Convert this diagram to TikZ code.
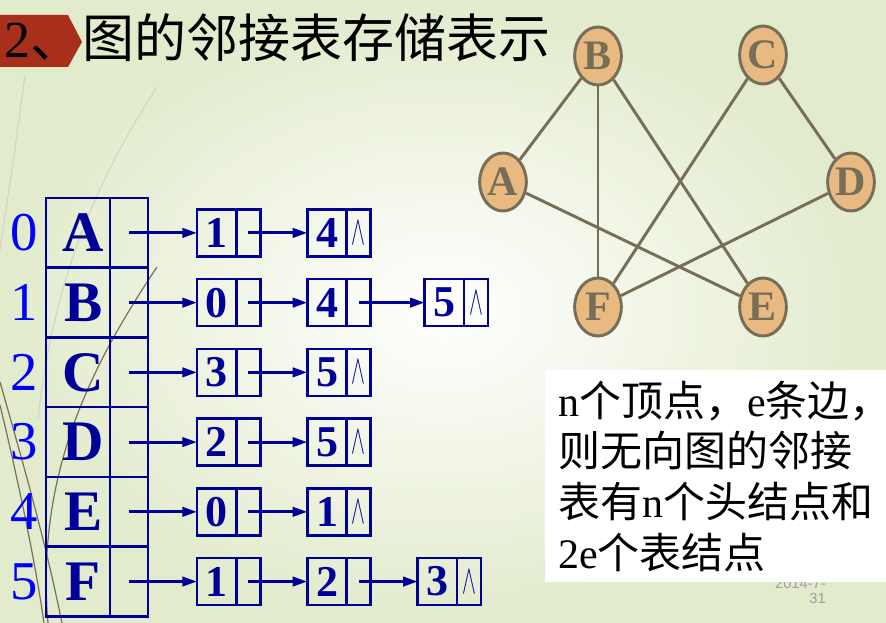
\documentclass[tikz,border=0pt]{standalone}
\usepackage{fontspec}
\usepackage{graphicx}
\setmainfont{Liberation Serif}
\setsansfont{Liberation Sans}
\newfontfamily\cjk{Noto Sans CJK SC}
\usepackage{tikz}
\usetikzlibrary{arrows.meta,positioning,shapes.geometric}
\definecolor{navy}{HTML}{000099}
\definecolor{idxblue}{HTML}{0000FF}
\definecolor{banner}{HTML}{A8301A}
\definecolor{vfill}{HTML}{E8BA82}
\definecolor{vline}{HTML}{766E56}
\definecolor{slidebg}{HTML}{E2EBCC}
\definecolor{wispdark}{HTML}{7D7058}
\definecolor{wisplight}{HTML}{D4D6C4}
\newcommand{\nil}{\scalebox{0.75}[1.5]{\fontsize{22}{22}\selectfont$\wedge$}}
\tikzset{
  headcell/.style={
    rectangle, draw=navy, line width=1.9pt,
    minimum width=48pt, minimum height=52.3pt,
    inner sep=0pt, outer sep=0pt,
    font=\fontsize{43}{43}\selectfont\bfseries, text=navy
  },
  headptr/.style={headcell, minimum width=28.5pt},
  datacell/.style={
    rectangle, draw=navy, line width=1.9pt,
    minimum width=29.5pt, minimum height=35.25pt,
    inner sep=0pt, outer sep=0pt,
    font=\fontsize{33}{33}\selectfont\bfseries, text=navy
  },
  ptrcell/.style={datacell, minimum width=18pt, font=\normalfont},
  linkarrow/.style={
    -{Triangle[length=11pt, width=7pt]}, line width=2.2pt, draw=navy
  },
  idxnum/.style={
    font=\fontsize{41}{41}\selectfont, text=idxblue, inner sep=0pt
  },
  vertex/.style={
    ellipse, draw=vline, fill=vfill, line width=2.2pt,
    minimum width=35pt, minimum height=43.5pt, inner sep=0pt,
    font=\fontsize{31.5}{31.5}\selectfont\bfseries, text=vline
  },
  graphline/.style={draw=vline, line width=2.2pt},
  titletext/.style={font=\fontsize{39}{39}\selectfont, inner sep=0pt},
  notebox/.style={
    rectangle, fill=white, align=left, inner xsep=7.5pt,
    minimum width=255.75pt, minimum height=159pt,
    font=\fontsize{31.5}{38}\selectfont
  },
  datestamp/.style={
    font=\sffamily\fontsize{11}{11.5}\selectfont, text=gray!75,
    align=right, inner sep=0pt
  },
  wisp/.style={draw=#1, line width=0.9pt},
  wisp/.default=wispdark,
}
\begin{document}
\begin{tikzpicture}[x=0.75pt, y=-0.75pt, node distance=35.25pt]
  % slide background
  \shade[inner color=white, outer color=slidebg] (0,0) rectangle (886,623);
  \useasboundingbox (0,0) rectangle (886,623);
  \draw[wisp=wisplight] (25,75) .. controls (15,150) and (6,210) .. (0,250);
  \draw[wisp=wisplight] (157,87) .. controls (110,160) and (55,260) .. (38,420);
  \draw[wisp] (157,267) .. controls (95,360) and (35,470) .. (48,623);
  \draw[wisp] (0,382) .. controls (25,470) and (45,540) .. (62,623);
  \draw[wisp] (0,405) .. controls (18,480) and (35,560) .. (44,623);

  % title
  \fill[banner] (0,15) -- (68,15) -- (82,42) -- (68,67) -- (0,67) -- cycle;
  \node[titletext, anchor=west] (title) at (4,38) {2\cjk 、图的邻接表存储表示};

  % head nodes
  \node[headcell] (hA) at (78,232.9) {\hspace*{8pt}A};
  \node[headcell, below=0pt of hA] (hB) {\hspace*{8pt}B};
  \node[headcell, below=0pt of hB] (hC) {\hspace*{8pt}C};
  \node[headcell, below=0pt of hC] (hD) {\hspace*{8pt}D};
  \node[headcell, below=0pt of hD] (hE) {\hspace*{8pt}E};
  \node[headcell, below=0pt of hE] (hF) {\hspace*{8pt}F};
  \node[headptr, right=0pt of hA] (hpA) {};
  \node[headptr, right=0pt of hB] (hpB) {};
  \node[headptr, right=0pt of hC] (hpC) {};
  \node[headptr, right=0pt of hD] (hpD) {};
  \node[headptr, right=0pt of hE] (hpE) {};
  \node[headptr, right=0pt of hF] (hpF) {};
  \node[idxnum, left=6pt of hA] (iA) {0};
  \node[idxnum, left=6pt of hB] (iB) {1};
  \node[idxnum, left=6pt of hC] (iC) {2};
  \node[idxnum, left=6pt of hD] (iD) {3};
  \node[idxnum, left=6pt of hE] (iE) {4};
  \node[idxnum, left=6pt of hF] (iF) {5};

  % list of A
  \node[datacell, right=36.75pt of hpA] (dA1) {1};
  \node[ptrcell, right=0pt of dA1] (pA1) {};
  \node[datacell, right=of pA1] (dA2) {4};
  \node[ptrcell, right=0pt of dA2] (pA2) {\nil};
  \draw[linkarrow] (hpA.center) -- (dA1);
  \draw[linkarrow] (pA1.center) -- (dA2);

  % list of B
  \node[datacell, right=36.75pt of hpB] (dB1) {0};
  \node[ptrcell, right=0pt of dB1] (pB1) {};
  \node[datacell, right=of pB1] (dB2) {4};
  \node[ptrcell, right=0pt of dB2] (pB2) {};
  \node[datacell, right=40.5pt of pB2] (dB3) {5};
  \node[ptrcell, right=0pt of dB3] (pB3) {\nil};
  \draw[linkarrow] (hpB.center) -- (dB1);
  \draw[linkarrow] (pB1.center) -- (dB2);
  \draw[linkarrow] (pB2.center) -- (dB3);

  % list of C
  \node[datacell, right=36.75pt of hpC] (dC1) {3};
  \node[ptrcell, right=0pt of dC1] (pC1) {};
  \node[datacell, right=of pC1] (dC2) {5};
  \node[ptrcell, right=0pt of dC2] (pC2) {\nil};
  \draw[linkarrow] (hpC.center) -- (dC1);
  \draw[linkarrow] (pC1.center) -- (dC2);

  % list of D
  \node[datacell, right=36.75pt of hpD] (dD1) {2};
  \node[ptrcell, right=0pt of dD1] (pD1) {};
  \node[datacell, right=of pD1] (dD2) {5};
  \node[ptrcell, right=0pt of dD2] (pD2) {\nil};
  \draw[linkarrow] (hpD.center) -- (dD1);
  \draw[linkarrow] (pD1.center) -- (dD2);

  % list of E
  \node[datacell, right=36.75pt of hpE] (dE1) {0};
  \node[ptrcell, right=0pt of dE1] (pE1) {};
  \node[datacell, right=of pE1] (dE2) {1};
  \node[ptrcell, right=0pt of dE2] (pE2) {\nil};
  \draw[linkarrow] (hpE.center) -- (dE1);
  \draw[linkarrow] (pE1.center) -- (dE2);

  % list of F
  \node[datacell, right=36.75pt of hpF] (dF1) {1};
  \node[ptrcell, right=0pt of dF1] (pF1) {};
  \node[datacell, right=of pF1] (dF2) {2};
  \node[ptrcell, right=0pt of dF2] (pF2) {};
  \node[datacell, right=of pF2] (dF3) {3};
  \node[ptrcell, right=0pt of dF3] (pF3) {\nil};
  \draw[linkarrow] (hpF.center) -- (dF1);
  \draw[linkarrow] (pF1.center) -- (dF2);
  \draw[linkarrow] (pF2.center) -- (dF3);

  % the graph
  \node[vertex] (B) at (598,56) {B};
  \node[vertex] (C) at (763,55) {C};
  \node[vertex] (A) at (503,182) {A};
  \node[vertex] (D) at (851,182) {D};
  \node[vertex] (F) at (598,307) {F};
  \node[vertex] (E) at (763,307) {E};
  \draw[graphline] (A) -- (B);
  \draw[graphline] (B) -- (F);
  \draw[graphline] (B) -- (E);
  \draw[graphline] (C) -- (F);
  \draw[graphline] (C) -- (D);
  \draw[graphline] (A) -- (E);
  \draw[graphline] (D) -- (F);

  % note
  \node[datestamp, anchor=north east] (stamp) at (826,578) {2014-7-\\31};
  \node[notebox, anchor=north west] (note) at (545,370)
    {n{\cjk 个顶点，}e{\cjk 条边}\makebox[0.5em][l]{\cjk ，}\\{\cjk 则无向图的邻接}\\{\cjk 表有}n{\cjk 个头结点和}\\2e{\cjk 个表结点}};
\end{tikzpicture}
\end{document}
